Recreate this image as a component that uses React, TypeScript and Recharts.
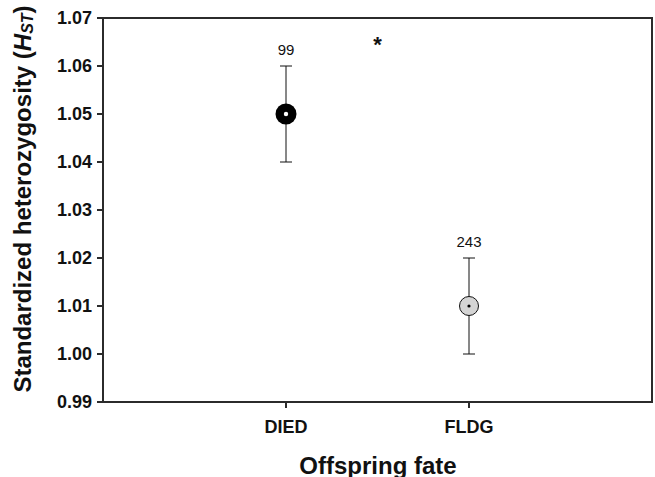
import React from 'react';
import { ScatterChart, Scatter, XAxis, YAxis, ErrorBar, ReferenceArea, Label } from 'recharts';

const categories = ['DIED', 'FLDG'];
const means = [1.05, 1.01];
const errors = [0.01, 0.01];
const sampleSizes = [99, 243];
const yTicks = [0.99, 1.0, 1.01, 1.02, 1.03, 1.04, 1.05, 1.06, 1.07];
const sigMark = { x: 1.5, y: 1.065, text: '*' };

const FONT = '"Liberation Sans", Arial, Helvetica, sans-serif';
const AXIS_COLOR = '#2b2b2b';
const markerFills = ['#000000', '#d4d4d4'];
const centerFills = ['#ffffff', '#000000'];

const points = categories.map((c, i) => ({ x: i + 1, y: means[i], err: errors[i], name: c }));
const nLabels = categories.map((c, i) => ({ x: i + 1, y: means[i] + errors[i], n: sampleSizes[i] }));
const sigData = [sigMark];

const MeanMarker = (props: any) => {
  const { cx, cy, index } = props;
  const i = index ?? 0;
  if (i === 0) {
    return (
      <g>
        <circle cx={cx} cy={cy} r={10.5} fill={markerFills[0]} />
        <circle cx={cx} cy={cy} r={2.2} fill={centerFills[0]} />
      </g>
    );
  }
  return (
    <g>
      <circle cx={cx} cy={cy} r={9.5} fill={markerFills[1]} stroke="#111" strokeWidth={1} />
      <circle cx={cx} cy={cy} r={1.6} fill={centerFills[1]} />
    </g>
  );
};

const CountLabel = (props: any) => {
  const { cx, cy, payload } = props;
  return (
    <text x={cx} y={cy - 11} textAnchor="middle" fontFamily={FONT} fontSize={15} fill="#111">
      {payload.n}
    </text>
  );
};

const SigLabel = (props: any) => {
  const { cx, cy, payload } = props;
  return (
    <text x={cx} y={cy + 10} textAnchor="middle" fontFamily={FONT} fontWeight="bold" fontSize={22} fill="#111">
      {payload.text}
    </text>
  );
};

const YTitle = () => (
  <text
    x={22}
    y={199}
    transform="rotate(-90, 22, 199)"
    textAnchor="middle"
    dominantBaseline="central"
    fontFamily={FONT}
    fontWeight="bold"
    fontSize={24}
    fill="#111"
  >
    Standardized heterozygosity (
    <tspan fontStyle="italic">H</tspan>
    <tspan fontSize={16} dy={5} fontStyle="italic">ST</tspan>
    <tspan dy={-5}>)</tspan>
  </text>
);

const XTitle = () => (
  <text x={378} y={465} textAnchor="middle" dominantBaseline="central" fontFamily={FONT} fontWeight="bold" fontSize={24} fill="#111">
    Offspring fate
  </text>
);

export default function App() {
  return (
    <div style={{ position: 'absolute', left: 0, top: 0, background: '#fff' }}>
      <ScatterChart width={655} height={477} margin={{ top: 18, right: 3, bottom: 0, left: 0 }}>
        <XAxis
          type="number"
          dataKey="x"
          domain={[0, 3]}
          ticks={[1, 2]}
          tickFormatter={(v: number) => categories[v - 1] ?? ''}
          height={75}
          axisLine={{ stroke: AXIS_COLOR, strokeWidth: 2 }}
          tickLine={{ stroke: AXIS_COLOR, strokeWidth: 2 }}
          tickSize={6}
          tickMargin={12}
          tick={{ fontFamily: FONT, fontWeight: 'bold', fontSize: 18, fill: '#111' }}
          allowDataOverflow
        >
          <Label content={<XTitle />} />
        </XAxis>
        <YAxis
          type="number"
          dataKey="y"
          domain={[0.99, 1.07]}
          ticks={yTicks}
          tickFormatter={(v: number) => v.toFixed(2)}
          width={103}
          axisLine={{ stroke: AXIS_COLOR, strokeWidth: 2 }}
          tickLine={{ stroke: AXIS_COLOR, strokeWidth: 2 }}
          tickSize={6}
          tickMargin={5}
          tick={{ fontFamily: FONT, fontWeight: 'bold', fontSize: 18, fill: '#111' }}
          allowDataOverflow
        >
          <Label content={<YTitle />} />
        </YAxis>
        <ReferenceArea x1={0} x2={3} y1={0.99} y2={1.07} fill="none" stroke={AXIS_COLOR} strokeWidth={2} ifOverflow="extendDomain" />
        <Scatter data={points} shape={<MeanMarker />} isAnimationActive={false}>
          <ErrorBar dataKey="err" direction="y" width={6} stroke="#111" strokeWidth={1} />
        </Scatter>
        <Scatter data={nLabels} shape={<CountLabel />} isAnimationActive={false} />
        <Scatter data={sigData} shape={<SigLabel />} isAnimationActive={false} />
      </ScatterChart>
    </div>
  );
}
